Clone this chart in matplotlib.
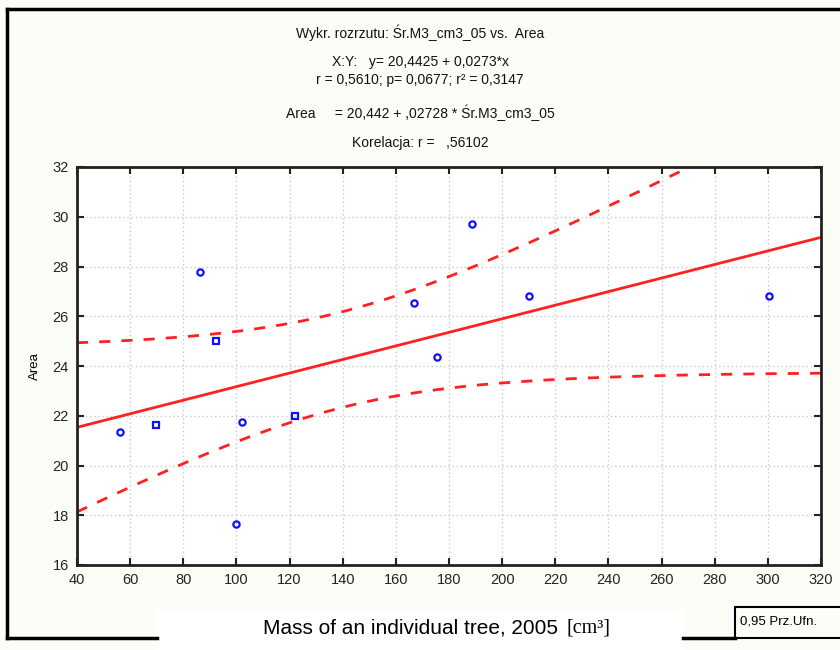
import numpy as np
import matplotlib.pyplot as plt
from matplotlib.lines import Line2D
from matplotlib.patches import Rectangle

# mean tree mass [cm3] vs. area, 12 trees
mass = [56.2, 69.7, 86.3, 92.2, 99.8, 102.0, 122.0, 166.8, 175.6, 188.5, 210.2, 300.6]
area = [21.36, 21.64, 27.77, 25.02, 17.65, 21.75, 22.0, 26.52, 24.37, 29.71, 26.81, 26.81]
marker_kind = ['o', 's', 'o', 's', 'o', 'o', 's', 'o', 'o', 'o', 'o', 'o']

# fitted line as reported by the stats package
intercept = 20.4425
slope = 0.02728
t_crit = 2.2281  # t(0.975, df=10)

x_ticks = list(range(40, 321, 20))
y_ticks = list(range(16, 33, 2))

title_lines = [
    "Wykr. rozrzutu: Śr.M3_cm3_05 vs.  Area",
    "X:Y:   y= 20,4425 + 0,0273*x",
    "r = 0,5610; p= 0,0677; r² = 0,3147",
    "Area     = 20,442 + ,02728 * Śr.M3_cm3_05",
    "Korelacja: r =   ,56102",
]
title_y = [33, 62, 80, 113, 143]

W, H = 840, 650
bg = '#fdfdf8'
fig = plt.figure(figsize=(W / 100, H / 100), dpi=100, facecolor=bg)
plt.rcParams['font.family'] = ['Liberation Sans', 'DejaVu Sans']

def px(x, y):
    return x / W, 1 - y / H

ax = fig.add_axes([77 / W, (H - 565) / H, 744 / W, 398 / H])
ax.set_facecolor('white')

x = np.array(mass)
y = np.array(area)
n = len(x)
resid = y - (intercept + slope * x)
s = np.sqrt(np.sum(resid ** 2) / (n - 2))
sxx = np.sum((x - x.mean()) ** 2)

xs = np.linspace(40, 320, 300)
fit = intercept + slope * xs
half = t_crit * s * np.sqrt(1 / n + (xs - x.mean()) ** 2 / sxx)

red = '#ff2020'
ax.plot(xs, fit, color=red, lw=2)
ax.plot(xs, fit + half, color=red, lw=2, dashes=(4, 4))
ax.plot(xs, fit - half, color=red, lw=2, dashes=(4, 4))

for xi, yi, m in zip(mass, area, marker_kind):
    ax.plot(xi, yi, marker=m, ms=4.5, mfc='none', mec='#1010ff', mew=1.6, ls='none')

ax.set_xlim(40, 320)
ax.set_ylim(16, 32)
ax.set_xticks(x_ticks)
ax.set_yticks(y_ticks)
ax.grid(True, color='#c8c8c8', ls=(0, (1, 2)), lw=1)
ax.tick_params(direction='in', length=5, width=1.5, top=True, right=True,
               labelsize=10.5, colors='#222222', pad=6)
for sp in ax.spines.values():
    sp.set_linewidth(2)
    sp.set_color('#222222')
ax.set_ylabel('Area', fontsize=9.5, labelpad=8)

for txt, ty in zip(title_lines, title_y):
    fig.text(*px(420, ty), txt, ha='center', va='center', fontsize=10, color='#111111')

# outer frame
frame = dict(color='black', lw=2.5, transform=fig.transFigure)
fig.add_artist(Line2D([7 / W, 1], [1 - 9 / H] * 2, **frame))
fig.add_artist(Line2D([7 / W, 7 / W], [1 - 9 / H, 1 - 638 / H], **frame))
fig.add_artist(Line2D([7 / W, 157 / W], [1 - 638 / H] * 2, **frame))
fig.add_artist(Line2D([683 / W, 735 / W], [1 - 638 / H] * 2, **frame))

# legend box
fig.add_artist(Rectangle(px(735, 638), 110 / W, 31 / H, transform=fig.transFigure,
                         facecolor=bg, edgecolor='black', lw=1.5))
fig.text(*px(740, 622), '0,95 Prz.Ufn.', ha='left', va='center', fontsize=9.5)

# x axis caption on white band
fig.add_artist(Rectangle(px(157, 650), 526 / W, 40 / H, transform=fig.transFigure,
                         facecolor='white', edgecolor='none'))
fig.text(*px(564, 628), 'Mass of an individual tree, 2005 ', ha='right', va='center',
         fontsize=15, color='black')
fig.text(*px(567, 628), '[cm³]', ha='left', va='center', fontsize=14.5,
         family='Liberation Serif', color='black')

fig.savefig('out.png', dpi=100, facecolor=bg)
